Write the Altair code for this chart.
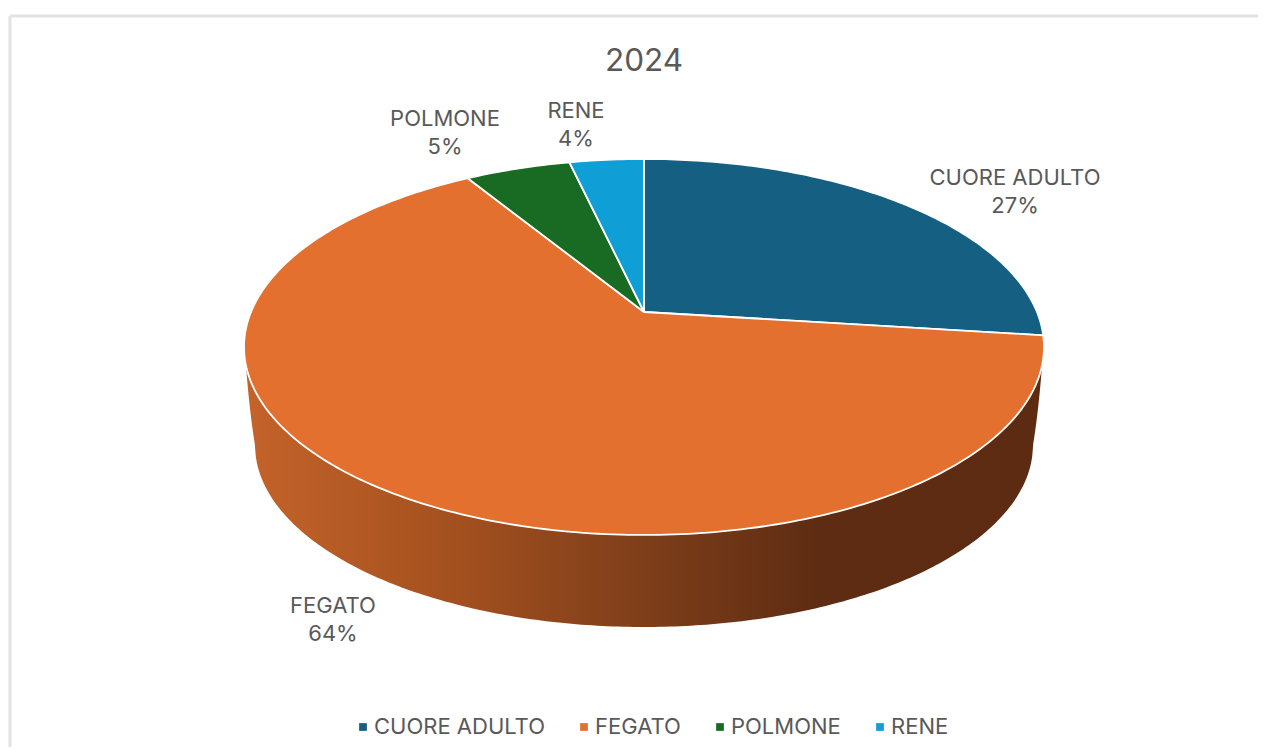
import math
import altair as alt
import pandas as pd

categories = ["CUORE ADULTO", "FEGATO", "POLMONE", "RENE"]
values = [27.0, 64.3, 5.1, 3.6]
percent_labels = ["27%", "64%", "5%", "4%"]
colors = ["#156082", "#E4702F", "#196B24", "#0F9ED5"]
label_centres = [(1015, 178), (333, 606), (445, 119), (576, 111)]

PAGE = 8
W, H = 1250, 739
FONT = "Inter"
TEXT = "#595959"

# Perspective of the tilted pie: circle -> ellipse on the page
APEX = (644, 312)
A, B, K = 393.0, 181.5, 0.186


def project(theta):
    u, v = math.sin(theta), math.cos(theta)
    w = 1 + K * v
    return APEX[0] + A * u / w - PAGE, APEX[1] - B * v / w - PAGE


def top_rim_y(x):
    dx = (x + PAGE - 644) / 400
    return 347 + 188 * math.sqrt(max(0, 1 - dx * dx)) - PAGE


def wall_bottom_y(x):
    page_x = x + PAGE
    dx = (page_x - 644) / 389
    if abs(dx) >= 1:
        edge_x = 255 if dx < 0 else 1033
        start_x = 246 if dx < 0 else 1042
        t = (page_x - start_x) / (edge_x - start_x)
        return top_rim_y(x) + t * (445 - PAGE - top_rim_y(x))
    return 445 + 182 * math.sqrt(1 - dx * dx) - PAGE


rows = []
total = sum(values)
start = 0.0
for cat, val in zip(categories, values):
    t0 = start / total * 2 * math.pi
    t1 = (start + val) / total * 2 * math.pi
    n = max(4, int(val * 4))
    rows.append({"cat": cat, "i": 0, "x": APEX[0] - PAGE, "y": APEX[1] - PAGE})
    for k in range(n + 1):
        px, py = project(t0 + (t1 - t0) * k / n)
        rows.append({"cat": cat, "i": k + 1, "x": px, "y": py})
    rows.append({"cat": cat, "i": n + 2, "x": APEX[0] - PAGE, "y": APEX[1] - PAGE})
    start += val
slices = pd.DataFrame(rows)

wall_rows = []
steps = 240
for k in range(steps + 1):
    x = 644 - PAGE - 398 * math.cos(math.pi * k / steps)
    wall_rows.append({"x": x, "y": top_rim_y(x), "y2": wall_bottom_y(x)})
wall = pd.DataFrame(wall_rows)

label_rows = []
for cat, pct, (lx, ly) in zip(categories, percent_labels, label_centres):
    label_rows.append({"t": cat, "x": lx - PAGE, "y": ly - PAGE})
    label_rows.append({"t": pct, "x": lx - PAGE, "y": ly + 28 - PAGE})
labels = pd.DataFrame(label_rows)

xs = alt.X("x:Q", axis=None, scale=alt.Scale(domain=[0, W], range=[0, W]))
ys = alt.Y("y:Q", axis=None, scale=alt.Scale(domain=[0, H], range=[0, H]))

frame_top = alt.Chart(pd.DataFrame({"a": [0]})).mark_rule(color="#E2E2E2", strokeWidth=3).encode(
    x=alt.value(2), x2=alt.value(W), y=alt.value(8)
)
frame_left = alt.Chart(pd.DataFrame({"a": [0]})).mark_rule(color="#E2E2E2", strokeWidth=3).encode(
    x=alt.value(2), y=alt.value(8), y2=alt.value(H)
)

wall_layer = alt.Chart(wall).mark_area(
    color=alt.Gradient(
        gradient="linear",
        x1=0, x2=1, y1=0, y2=0,
        stops=[
            alt.GradientStop(offset=0, color="#C4632A"),
            alt.GradientStop(offset=0.25, color="#A5511F"),
            alt.GradientStop(offset=0.5, color="#7E3E1A"),
            alt.GradientStop(offset=0.72, color="#5E2C12"),
            alt.GradientStop(offset=1, color="#5C2B12"),
        ],
    )
).encode(x=xs, y=ys, y2="y2:Q")

slice_layer = alt.Chart(slices).mark_line(stroke="white", strokeWidth=1.8, strokeJoin="round").encode(
    x=xs,
    y=ys,
    order="i:Q",
    detail="cat:N",
    fill=alt.Fill(
        "cat:N",
        scale=alt.Scale(domain=categories, range=colors),
        legend=alt.Legend(
            title=None,
            orient="none",
            legendX=344,
            legendY=708,
            direction="horizontal",
            columns=4,
            symbolType="square",
            symbolSize=60,
            symbolStrokeWidth=0,
            symbolStrokeColor="transparent",
            labelFont=FONT,
            labelFontSize=22,
            labelColor=TEXT,
            labelOffset=0,
            labelLimit=300,
            columnPadding=28,
        ),
    ),
)

text_layer = alt.Chart(labels).mark_text(
    font=FONT, fontSize=22, color=TEXT, align="center", baseline="middle"
).encode(x=xs, y=ys, text="t:N")

chart = alt.layer(frame_top, frame_left, wall_layer, slice_layer, text_layer).properties(
    width=W,
    height=H,
    padding=0,
    autosize=alt.AutoSizeParams(type="none"),
    title=alt.TitleParams(
        "2024", font=FONT, fontSize=31.5, fontWeight="normal", color=TEXT,
        anchor="middle", frame="group", dx=11, dy=73,
    ),
).configure_view(stroke=None)

chart.save("out.html", embed_options={"renderer": "svg", "actions": False})
